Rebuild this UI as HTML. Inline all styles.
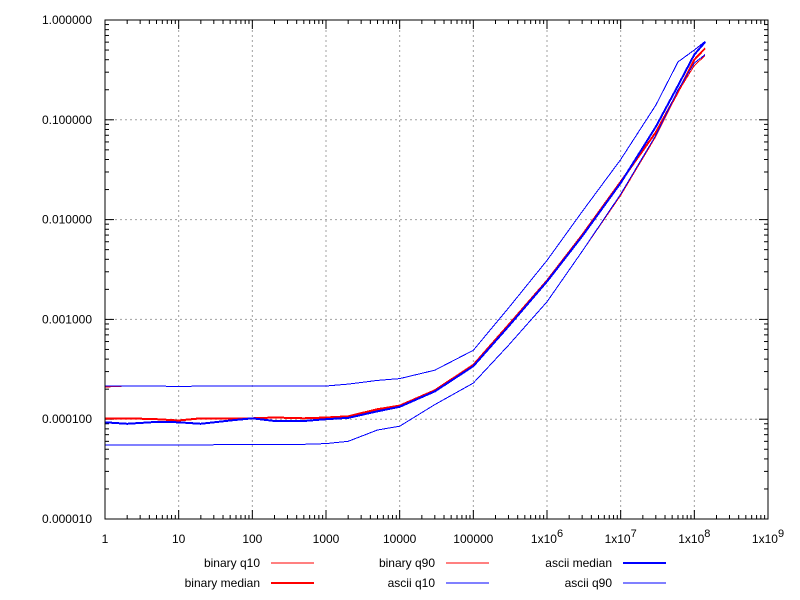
<!DOCTYPE html>
<html><head><meta charset="utf-8"><style>
body{margin:0;background:#fff}
svg{display:block;font-family:"Liberation Sans",sans-serif;font-size:12px}
</style></head><body>
<svg id="chart" width="800" height="600" viewBox="0 0 800 600">
<g id="grid"></g>
<g id="ticks"></g>
<g id="labels"></g>
<g id="series"></g>
<rect x="105" y="20" width="663" height="499" fill="none" stroke="#000" stroke-width="1"/>
<g id="legend"></g>
</svg>
<script>
const xVals=[1,2,5,10,20,50,100,200,500,1000,2000,5000,1e4,3e4,1e5,3e5,1e6,3e6,1e7,3e7,6e7,1e8,1.4e8];
const binaryQ10=[5.5e-5,5.5e-5,5.5e-5,5.5e-5,5.5e-5,5.6e-5,5.6e-5,5.6e-5,5.6e-5,5.7e-5,6e-5,7.8e-5,8.5e-5,1.4e-4,2.3e-4,5.5e-4,1.5e-3,4.8e-3,0.0175,0.068,0.19,0.35,0.44];
const binaryMedian=[1.02e-4,1.02e-4,1e-4,9.7e-5,1.02e-4,1.02e-4,1.02e-4,1.04e-4,1.02e-4,1.04e-4,1.07e-4,1.26e-4,1.37e-4,1.95e-4,3.5e-4,8.8e-4,2.45e-3,7e-3,0.024,0.075,0.19,0.4,0.52];
const binaryQ90=[2.1e-4,2.15e-4,2.15e-4,2.12e-4,2.15e-4,2.15e-4,2.15e-4,2.15e-4,2.15e-4,2.15e-4,2.25e-4,2.45e-4,2.55e-4,3.1e-4,4.9e-4,1.3e-3,3.9e-3,0.012,0.04,0.14,0.38,0.5,0.6];
const asciiQ10=[5.5e-5,5.5e-5,5.5e-5,5.5e-5,5.5e-5,5.6e-5,5.6e-5,5.6e-5,5.6e-5,5.7e-5,6e-5,7.8e-5,8.5e-5,1.4e-4,2.3e-4,5.5e-4,1.5e-3,4.8e-3,0.018,0.07,0.2,0.37,0.45];
const asciiMedian=[9.3e-5,9e-5,9.4e-5,9.3e-5,9e-5,9.7e-5,1.02e-4,9.6e-5,9.6e-5,1e-4,1.03e-4,1.2e-4,1.33e-4,1.9e-4,3.4e-4,8.5e-4,2.4e-3,6.8e-3,0.0233,0.085,0.22,0.45,0.6];
const asciiQ90=[2.15e-4,2.15e-4,2.15e-4,2.12e-4,2.15e-4,2.15e-4,2.15e-4,2.15e-4,2.15e-4,2.15e-4,2.25e-4,2.45e-4,2.55e-4,3.1e-4,4.9e-4,1.3e-3,3.9e-3,0.012,0.04,0.14,0.38,0.5,0.61];
const yTickLabels=["0.000010","0.000100","0.001000","0.010000","0.100000","1.000000"];
const xTickLabels=["1","10","100","1000","10000","100000","1x10^6","1x10^7","1x10^8","1x10^9"];

const NS="http://www.w3.org/2000/svg";
const L=105,R=768,T=20,B=519;
function sx(v){return L+(Math.log10(v)-0)/9*(R-L);}
function sy(v){return B-(Math.log10(v)+5)/5*(B-T);}
function mk(tag,attrs,parent){const e=document.createElementNS(NS,tag);for(const k in attrs)e.setAttribute(k,attrs[k]);parent.appendChild(e);return e;}
const grid=document.getElementById('grid'),ticks=document.getElementById('ticks'),labels=document.getElementById('labels');
xTickLabels.forEach((t,i)=>{
  const x=sx(Math.pow(10,i));
  if(i>0&&i<9){const g=mk('line',{x1:x,x2:x,y1:T,y2:B,stroke:'#a0a0a0','stroke-dasharray':'2,3'},grid);
  
  }
  mk('line',{x1:x,x2:x,y1:B,y2:B-9,stroke:'#000'},ticks);
  mk('line',{x1:x,x2:x,y1:T,y2:T+9,stroke:'#000'},ticks);
  if(i<9)for(let m=2;m<10;m++){const xm=sx(m*Math.pow(10,i));
    mk('line',{x1:xm,x2:xm,y1:B,y2:B-4,stroke:'#000'},ticks);
    mk('line',{x1:xm,x2:xm,y1:T,y2:T+4,stroke:'#000'},ticks);}
  const tx=mk('text',{x:x,y:543,'text-anchor':'middle'},labels);
  
  
  if(t.indexOf('^')>0){const p=t.split('^');tx.textContent=p[0];
    const s=mk('tspan',{dy:-6,'font-size':'11'},tx);s.textContent=p[1];}
  else tx.textContent=t;
});
yTickLabels.forEach((t,i)=>{
  const v=Math.pow(10,i-5),y=sy(v);
  if(i>0&&i<5){const g=mk('line',{x1:L,x2:R,y1:y,y2:y,stroke:'#a0a0a0','stroke-dasharray':'2,3'},grid);
  
  }
  mk('line',{x1:L,x2:L+9,y1:y,y2:y,stroke:'#000'},ticks);
  mk('line',{x1:R,x2:R-9,y1:y,y2:y,stroke:'#000'},ticks);
  if(i<5)for(let m=2;m<10;m++){const ym=sy(m*v);
    mk('line',{x1:L,x2:L+4,y1:ym,y2:ym,stroke:'#000'},ticks);
    mk('line',{x1:R,x2:R-4,y1:ym,y2:ym,stroke:'#000'},ticks);}
  const tx=mk('text',{x:92,y:y+4,'text-anchor':'end'},labels);
  
  
  tx.textContent=t;
});
const series=[
 ['binary-q10',binaryQ10,'#ff0000',1],['binary-q90',binaryQ90,'#ff0000',1],['binary-median',binaryMedian,'#ff0000',2],
 ['ascii-q10',asciiQ10,'#0000ff',1],['ascii-q90',asciiQ90,'#0000ff',1],['ascii-median',asciiMedian,'#0000ff',2]];
const sg=document.getElementById('series');
series.forEach(s=>{
  const p=mk('polyline',{points:xVals.map((x,i)=>sx(x).toFixed(1)+','+sy(s[1][i]).toFixed(1)).join(' '),fill:'none',stroke:s[2],'stroke-width':s[3],'shape-rendering':'crispEdges'},sg);
  
  
});
const legendItems=[['binary q10',260,563,'#ff0000',1],['binary median',260,583,'#ff0000',2],['binary q90',435,563,'#ff0000',1],['ascii q10',435,583,'#0000ff',1],['ascii median',612,563,'#0000ff',2],['ascii q90',612,583,'#0000ff',1]];
const lg=document.getElementById('legend');
legendItems.forEach(it=>{
  const t=mk('text',{x:it[1],y:it[2]+4,'text-anchor':'end'},lg);t.textContent=it[0];
  
  
  const l=mk('line',{x1:it[1]+11,x2:it[1]+54,y1:it[2],y2:it[2],stroke:it[3],'stroke-width':it[4],'shape-rendering':'crispEdges'},lg);
  
  
});
</script>
</body></html>
